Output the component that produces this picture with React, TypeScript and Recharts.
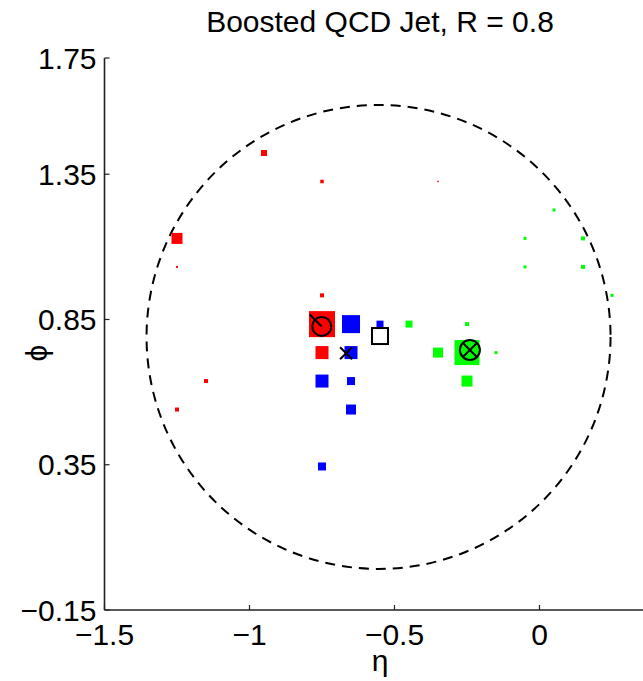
import { ScatterChart, Scatter, XAxis, YAxis, ReferenceDot } from "recharts";

// axis limits (square axes: both span 1.9)
const X_MIN = -1.5;
const X_MAX = 0.4;
const Y_MIN = -0.15;
const Y_MAX = 1.75;
const xTicks = [-1.5, -1, -0.5, 0];
const yTicks = [-0.15, 0.35, 0.85, 1.35, 1.75];

// calorimeter cells (eta, phi, pt weight) for the three subjets
const redCells = [
  { eta: -0.75, phi: 0.834, pt: 26 },
  { eta: -0.75, phi: 0.736, pt: 13 },
  { eta: -0.75, phi: 0.933, pt: 4 },
  { eta: -0.75, phi: 1.325, pt: 3.5 },
  { eta: -0.95, phi: 1.423, pt: 6 },
  { eta: -1.25, phi: 1.129, pt: 11 },
  { eta: -1.25, phi: 1.031, pt: 2 },
  { eta: -1.15, phi: 0.638, pt: 4 },
  { eta: -1.25, phi: 0.54, pt: 4 },
  { eta: -0.35, phi: 1.325, pt: 1.5 },
];

const blueCells = [
  { eta: -0.65, phi: 0.834, pt: 18 },
  { eta: -0.55, phi: 0.834, pt: 7 },
  { eta: -0.65, phi: 0.736, pt: 13 },
  { eta: -0.75, phi: 0.638, pt: 13 },
  { eta: -0.65, phi: 0.638, pt: 8 },
  { eta: -0.65, phi: 0.54, pt: 10 },
  { eta: -0.75, phi: 0.344, pt: 8 },
];

const greenCells = [
  { eta: -0.45, phi: 0.834, pt: 7 },
  { eta: -0.25, phi: 0.834, pt: 4 },
  { eta: -0.35, phi: 0.736, pt: 10 },
  { eta: -0.25, phi: 0.736, pt: 25 },
  { eta: -0.15, phi: 0.736, pt: 3 },
  { eta: -0.25, phi: 0.638, pt: 11 },
  { eta: 0.05, phi: 1.227, pt: 3 },
  { eta: -0.05, phi: 1.129, pt: 3 },
  { eta: 0.15, phi: 1.129, pt: 4 },
  { eta: -0.05, phi: 1.031, pt: 3 },
  { eta: 0.15, phi: 1.031, pt: 4 },
  { eta: 0.25, phi: 0.933, pt: 3 },
];

// jet and subjet axes
const jetAxis = [{ eta: -0.55, phi: 0.793 }];
const crossAxis = [{ eta: -0.667, phi: 0.734 }];
const circleAxis = [{ eta: -0.751, phi: 0.826 }];
const otimesAxis = [{ eta: -0.24, phi: 0.745 }];
const JET_R = 0.8;
const jetCenter = { eta: -0.555, phi: 0.79 };

// layout
const W = 700;
const H = 681;
const LEFT = 104.5;
const TOP = 58;
const PLOT_W = 551;
const PLOT_H = 552;
const X_AXIS_H = 40;
const PX_PER_UNIT = PLOT_W / (X_MAX - X_MIN);

const FONT = "'Liberation Sans', Arial, Helvetica, sans-serif";
const FS = 30;
const AXIS_COLOR = "#222";

const fmt = (v: number) => (v < 0 ? "\u2212" : "") + Math.abs(v);

const squareShape = (color: string) => (props: any) => {
  const s = props.payload.pt;
  return (
    <rect
      x={props.cx - s / 2}
      y={props.cy - s / 2}
      width={s}
      height={s}
      fill={color}
    />
  );
};

const openSquare = (props: any) => (
  <rect
    x={props.cx - 8}
    y={props.cy - 8}
    width={16}
    height={16}
    fill="none"
    stroke="#000"
    strokeWidth={2}
  />
);

const crossShape = (props: any) => {
  const { cx, cy } = props;
  const a = 6;
  return (
    <path
      d={`M${cx - a},${cy - a}L${cx + a},${cy + a}M${cx - a},${cy + a}L${cx + a},${cy - a}`}
      stroke="#000"
      strokeWidth={2}
      fill="none"
    />
  );
};

const circleShape = (props: any) => {
  const { cx, cy } = props;
  return (
    <g fill="none" stroke="#000" strokeWidth={2}>
      <circle cx={cx} cy={cy} r={9.5} />
      <path d={`M${cx - 12},${cy - 12}L${cx},${cy}`} />
    </g>
  );
};

const otimesShape = (props: any) => {
  const { cx, cy } = props;
  const a = 7;
  return (
    <g fill="none" stroke="#000" strokeWidth={2}>
      <circle cx={cx} cy={cy} r={10} />
      <path
        d={`M${cx - a},${cy - a}L${cx + a},${cy + a}M${cx - a},${cy + a}L${cx + a},${cy - a}`}
      />
    </g>
  );
};

const tickStyle = { fill: "#000", fontSize: FS, fontFamily: FONT };

export default function App() {
  return (
    <div
      style={{
        position: "absolute",
        left: 0,
        top: 0,
        width: 643,
        height: 681,
        overflow: "hidden",
        background: "#fff",
        fontFamily: FONT,
      }}
    >
      <div
        style={{
          position: "absolute",
          left: 0,
          top: 7,
          width: 2 * (LEFT + PLOT_W / 2),
          textAlign: "center",
          fontSize: FS,
          lineHeight: `${FS}px`,
          color: "#000",
        }}
      >
        Boosted QCD Jet, R = 0.8
      </div>
      <ScatterChart
        width={W}
        height={H}
        margin={{
          top: TOP,
          left: 0,
          right: W - LEFT - PLOT_W,
          bottom: H - TOP - PLOT_H - X_AXIS_H,
        }}
      >
        <XAxis
          xAxisId="top"
          orientation="top"
          type="number"
          dataKey="eta"
          domain={[X_MIN, X_MAX]}
          allowDataOverflow
          ticks={xTicks}
          interval={0}
          height={0}
          tick={false}
          tickSize={-5}
          axisLine={{ stroke: AXIS_COLOR, strokeWidth: 1.6 }}
          tickLine={{ stroke: AXIS_COLOR, strokeWidth: 1.2 }}
        />
        <XAxis
          type="number"
          dataKey="eta"
          domain={[X_MIN, X_MAX]}
          allowDataOverflow
          ticks={xTicks}
          interval={0}
          height={X_AXIS_H}
          tickSize={-5}
          tickMargin={19}
          tickFormatter={fmt}
          tick={tickStyle}
          axisLine={{ stroke: AXIS_COLOR, strokeWidth: 1.6 }}
          tickLine={{ stroke: AXIS_COLOR, strokeWidth: 1.2 }}
          label={{
            value: "\u03b7",
            position: "bottom",
            offset: 0,
            style: { fill: "#000", fontSize: FS, fontFamily: FONT },
          }}
        />
        <YAxis
          type="number"
          dataKey="phi"
          domain={[Y_MIN, Y_MAX]}
          allowDataOverflow
          ticks={yTicks}
          interval={0}
          width={LEFT}
          tickSize={-5}
          tickMargin={13}
          tickFormatter={fmt}
          tick={tickStyle}
          axisLine={{ stroke: AXIS_COLOR, strokeWidth: 1.6 }}
          tickLine={{ stroke: AXIS_COLOR, strokeWidth: 1.2 }}
          label={{
            value: "\u03d5",
            angle: -90,
            position: "center",
            dx: -16,
            dy: 19,
            style: { fill: "#000", fontSize: FS, fontFamily: FONT },
          }}
        />
        <ReferenceDot
          x={jetCenter.eta}
          y={jetCenter.phi}
          r={JET_R * PX_PER_UNIT}
          fill="none"
          stroke="#000"
          strokeWidth={2}
          strokeDasharray="10 7"
        />
        <Scatter data={redCells} shape={squareShape("#ff0000")} isAnimationActive={false} />
        <Scatter data={blueCells} shape={squareShape("#0000ff")} isAnimationActive={false} />
        <Scatter data={greenCells} shape={squareShape("#00ff00")} isAnimationActive={false} />
        <Scatter data={jetAxis} shape={openSquare} isAnimationActive={false} />
        <Scatter data={crossAxis} shape={crossShape} isAnimationActive={false} />
        <Scatter data={circleAxis} shape={circleShape} isAnimationActive={false} />
        <Scatter data={otimesAxis} shape={otimesShape} isAnimationActive={false} />
      </ScatterChart>
    </div>
  );
}
